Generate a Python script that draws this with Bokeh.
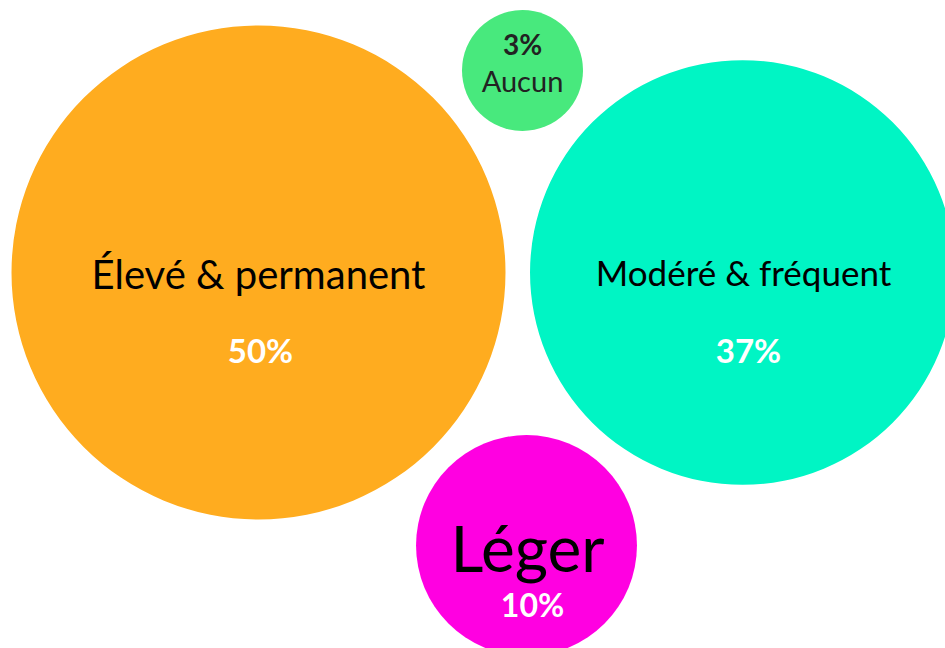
from bokeh.plotting import figure
from bokeh.models import Range1d, ColumnDataSource
from bokeh.core.properties import value
from bokeh.embed import file_html
from bokeh.resources import INLINE
import math

labels = ["Élevé & permanent", "Modéré & fréquent", "Léger", "Aucun"]
values = [50, 37, 10, 3]
pct_labels = ["50%", "37%", "10%", "3%"]
colors = ["#FFAC1F", "#00F5C4", "#FF00E1", "#48E97D"]

# layout (screen-pixel coordinates of the page)
cx = [258, 742, 526, 522]
cy = [272, 272, 545, 70]
scale = 247 / math.sqrt(50)
radii = [scale * math.sqrt(v) for v in values]

W, H = 945, 648
p = figure(width=W, height=H, output_backend="svg", toolbar_location=None,
           x_range=Range1d(0, W), y_range=Range1d(H, 0),
           min_border=0, outline_line_color=None)
p.axis.visible = False
p.grid.visible = False
p.background_fill_color = "white"
p.border_fill_color = "white"

src = ColumnDataSource(dict(x=cx, y=cy, r=radii, c=colors))
p.circle(x="x", y="y", radius="r", radius_units="screen", fill_color="c",
         line_color=None, source=src)

font = value("Lato")
# category labels
lab_x = [258, 743, 527, 522]
lab_y = [273, 271, 547, 80]
lab_size = ["40px", "35px", "64px", "29px"]
lab_col = ["#000000", "#000000", "#000000", "#222222"]
# percent labels
pct_x = [260, 748, 532, 522]
pct_y = [349, 349, 604, 43]
pct_size = ["33px", "33px", "32px", "28px"]
pct_col = ["#FFFFFF", "#FFFFFF", "#FFFFFF", "#222222"]

for i in range(4):
    p.text(x=[lab_x[i]], y=[lab_y[i]], text=[labels[i]], text_font=font,
           text_font_size=lab_size[i], text_color=lab_col[i],
           text_align="center", text_baseline="middle")
    p.text(x=[pct_x[i]], y=[pct_y[i]], text=[pct_labels[i]], text_font=font,
           text_font_size=pct_size[i], text_color=pct_col[i], text_font_style="bold",
           text_align="center", text_baseline="middle")

open("out.html", "w").write(file_html(p, INLINE))
